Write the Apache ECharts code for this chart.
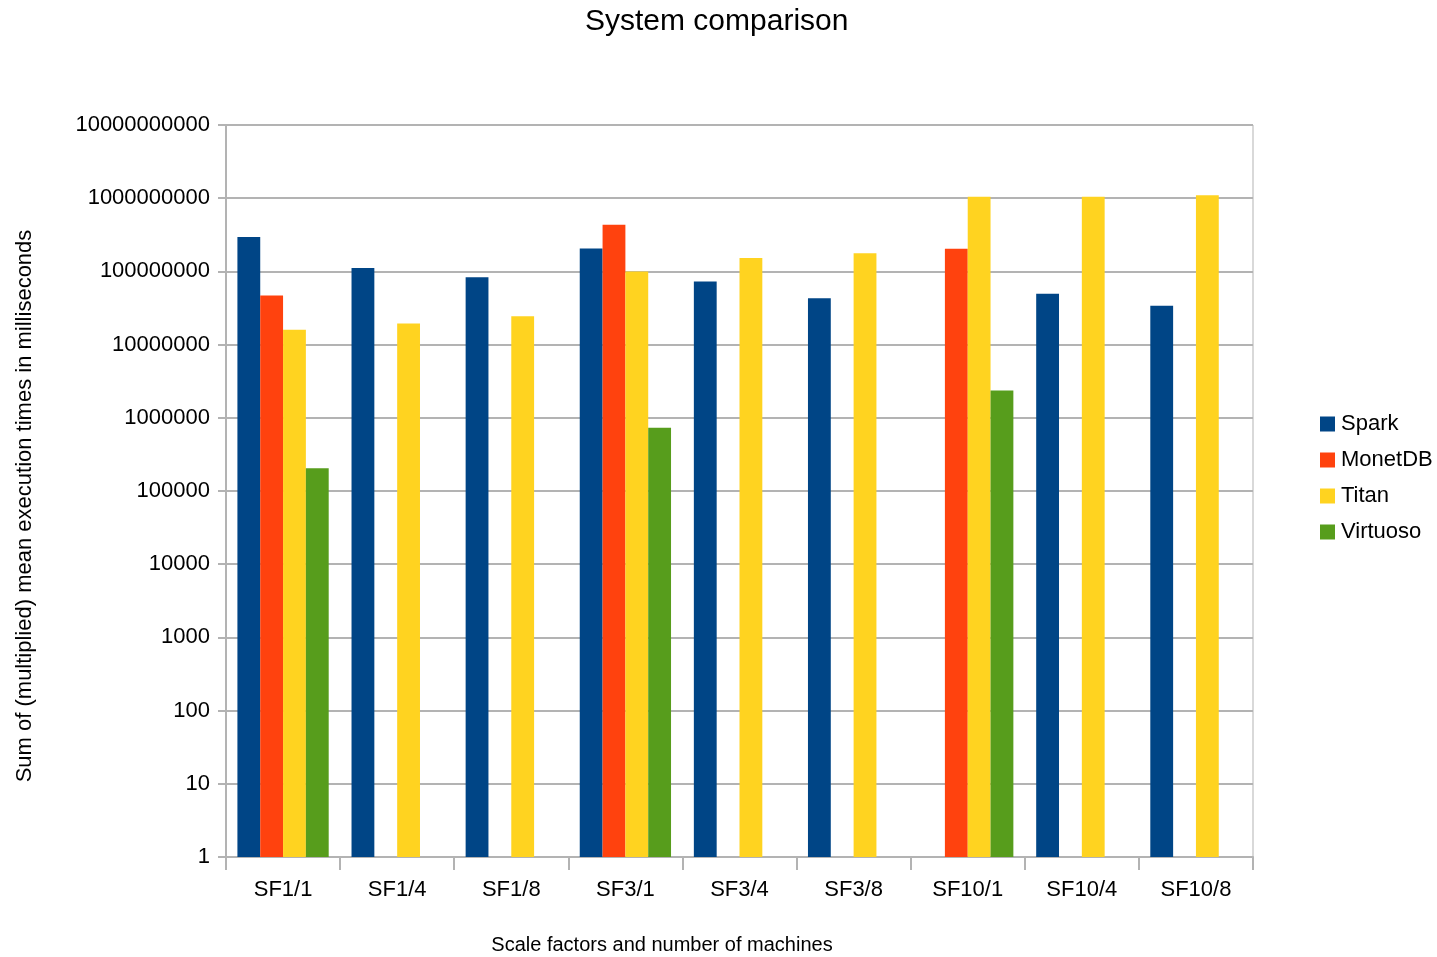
<!DOCTYPE html>
<html>
<head>
<meta charset="utf-8">
<script src="https://cdn.jsdelivr.net/npm/echarts@6/dist/echarts.min.js"></script>
<style>
html,body{margin:0;padding:0;background:#fff;}
#chart{width:1437px;height:957px;}
</style>
</head>
<body>
<div id="chart"></div>
<script>
const categories = ['SF1/1','SF1/4','SF1/8','SF3/1','SF3/4','SF3/8','SF10/1','SF10/4','SF10/8'];
const spark    = [2.96e8, 1.11e8, 8.3e7, 2.05e8, 7.3e7, 4.3e7, null, 4.96e7, 3.4e7];
const monetdb  = [4.7e7, null, null, 4.35e8, null, null, 2.04e8, null, null];
const titan    = [1.6e7, 1.94e7, 2.44e7, 1.0e8, 1.53e8, 1.77e8, 1.05e9, 1.05e9, 1.1e9];
const virtuoso = [2.04e5, null, null, 7.3e5, null, null, 2.36e6, null, null];

const FONT = 'Liberation Sans, Arial, sans-serif';
const chart = echarts.init(document.getElementById('chart'));
chart.setOption({
  animation: false,
  backgroundColor: '#ffffff',
  color: ['#004586', '#ff420e', '#ffd320', '#579d1c'],
  title: {
    text: 'System comparison',
    left: 580, top: 2,
    textStyle: { fontFamily: FONT, fontSize: 30, fontWeight: 'normal', color: '#000' }
  },
  legend: {
    orient: 'vertical',
    left: 1320, top: 413,
    padding: 0,
    itemWidth: 15, itemHeight: 15, itemGap: 14,
    icon: 'rect',
    textStyle: { fontFamily: FONT, fontSize: 22, color: '#000', lineHeight: 22, padding: [0,0,0,1] },
    data: ['Spark', 'MonetDB', 'Titan', 'Virtuoso']
  },
  grid: {
    left: 226, right: 184, top: 125, bottom: 100,
    show: true, borderColor: '#b3b3b3', borderWidth: 1
  },
  xAxis: {
    type: 'category',
    data: categories,
    axisLine: { lineStyle: { color: '#b3b3b3', width: 2 } },
    axisTick: { show: true, interval: 0, length: 13, alignWithLabel: false, lineStyle: { color: '#b3b3b3', width: 2 } },
    axisLabel: { interval: 0, margin: 22, fontFamily: FONT, fontSize: 22, color: '#000' },
    splitLine: { show: false }
  },
  yAxis: {
    type: 'log',
    logBase: 10,
    min: 1, max: 1e10,
    interval: 1,
    splitNumber: 10,
    axisLine: { show: true, lineStyle: { color: '#b3b3b3', width: 2 } },
    axisTick: { show: true, length: 8, lineStyle: { color: '#b3b3b3', width: 2 } },
    axisLabel: {
      margin: 16, fontFamily: FONT, fontSize: 22, color: '#000',
      formatter: v => String(Math.round(v))
    },
    splitLine: { show: true, lineStyle: { color: '#b3b3b3', width: 2 } }
  },
  graphic: [
    {
      type: 'text', x: 662, y: 945,
      style: { text: 'Scale factors and number of machines', fontFamily: FONT, fontSize: 20, fill: '#000', align: 'center', verticalAlign: 'middle', textAlign: 'center', textVerticalAlign: 'middle' }
    },
    {
      type: 'text', x: 25, y: 506, rotation: Math.PI / 2,
      style: { text: 'Sum of (multiplied) mean execution times in milliseconds', fontFamily: FONT, fontSize: 22, fill: '#000', align: 'center', verticalAlign: 'middle', textAlign: 'center', textVerticalAlign: 'middle' }
    }
  ],
  series: [
    { name: 'Spark', type: 'bar', data: spark, barGap: '0%', barCategoryGap: '20%' },
    { name: 'MonetDB', type: 'bar', data: monetdb },
    { name: 'Titan', type: 'bar', data: titan },
    { name: 'Virtuoso', type: 'bar', data: virtuoso }
  ]
});
</script>
</body>
</html>
